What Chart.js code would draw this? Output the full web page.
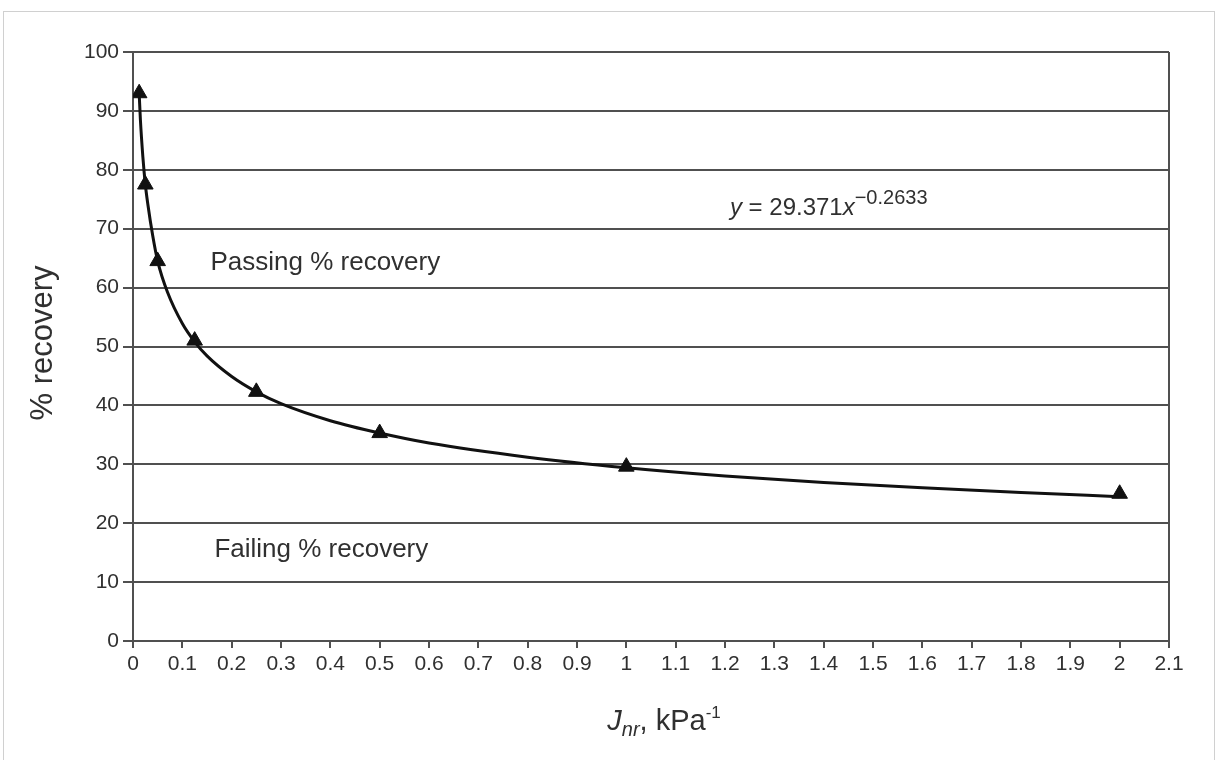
<!DOCTYPE html>
<html>
<head>
<meta charset="utf-8">
<script src="https://cdn.jsdelivr.net/npm/chart.js@4.4.1/dist/chart.umd.min.js"></script>
<style>
  html, body { margin: 0; padding: 0; background: #fff; }
  #wrap { width: 1218px; height: 760px; position: relative; }
</style>
</head>
<body>
<div id="wrap"><canvas id="chart"></canvas></div>
<script>
// measured points (J_nr vs % recovery)
const jnr = [0.0125, 0.025, 0.05, 0.125, 0.25, 0.5, 1, 2];
const recovery = [93, 77.5, 64.5, 51, 42.3, 35.3, 29.6, 25];

// fitted curve
const curveX = [0.0125, 0.015, 0.02, 0.025, 0.03, 0.04, 0.05, 0.07, 0.1, 0.125, 0.15, 0.2, 0.25, 0.3, 0.4, 0.5, 0.6, 0.8, 1.0, 1.2, 1.4, 1.6, 1.8, 2.0];
const curveY = [93, 88.5, 82.2, 77.5, 74.2, 68.8, 64.5, 59.2, 53.9, 50.8, 48.4, 44.9, 42.3, 40.3, 37.4, 35.3, 33.6, 31.2, 29.4, 28.0, 26.9, 26.0, 25.2, 24.5];

const yTicks = [0, 10, 20, 30, 40, 50, 60, 70, 80, 90, 100];
const xMax = 2.1;

const FONT = '"Liberation Sans", Arial, sans-serif';
const TEXT = '#303030';
const LINE = '#505050';

const points = jnr.map((x, i) => ({ x: x, y: recovery[i] }));
const curve = curveX.map((x, i) => ({ x: x, y: curveY[i] }));

// titles, annotations, frame
const extras = {
  id: 'extras',
  afterDraw(chart) {
    const ctx = chart.ctx;
    const xs = chart.scales.x, ys = chart.scales.y;
    const area = chart.chartArea;
    ctx.save();

    // right border of plot
    ctx.strokeStyle = LINE;
    ctx.lineWidth = 2;
    ctx.beginPath();
    ctx.moveTo(area.right, area.top);
    ctx.lineTo(area.right, area.bottom);
    ctx.stroke();

    // faint outer frame
    ctx.strokeStyle = '#d0d0d0';
    ctx.lineWidth = 1;
    ctx.strokeRect(3.5, 11.5, 1211, 760);

    ctx.fillStyle = TEXT;
    ctx.textBaseline = 'alphabetic';
    ctx.textAlign = 'left';

    // region labels
    ctx.font = '26px ' + FONT;
    ctx.fillText('Passing % recovery', xs.getPixelForValue(0.157), ys.getPixelForValue(63));
    ctx.fillText('Failing % recovery', xs.getPixelForValue(0.165), ys.getPixelForValue(14.2));

    // equation
    let ex = xs.getPixelForValue(1.21);
    const ey = ys.getPixelForValue(72.3);
    ctx.font = 'italic 24px ' + FONT;
    ctx.fillText('y', ex, ey);
    ex += ctx.measureText('y').width;
    ctx.font = '24px ' + FONT;
    ctx.fillText(' = 29.371', ex, ey);
    ex += ctx.measureText(' = 29.371').width;
    ctx.font = 'italic 24px ' + FONT;
    ctx.fillText('x', ex, ey);
    ex += ctx.measureText('x').width;
    ctx.font = '20px ' + FONT;
    ctx.fillText('\u22120.2633', ex, ey - 11);

    // y title
    ctx.save();
    ctx.translate(52, 343);
    ctx.rotate(-Math.PI / 2);
    ctx.textAlign = 'center';
    ctx.font = '31px ' + FONT;
    ctx.fillText('% recovery', 0, 0);
    ctx.restore();

    // x title: J_nr, kPa^-1
    const parts = [
      { t: 'J', f: 'italic 29px ' + FONT, dy: 0 },
      { t: 'nr', f: 'italic 20px ' + FONT, dy: 6 },
      { t: ', kPa', f: '29px ' + FONT, dy: 0 },
      { t: '-1', f: '17px ' + FONT, dy: -12 }
    ];
    let total = 0;
    parts.forEach(p => { ctx.font = p.f; total += ctx.measureText(p.t).width; });
    let tx = 664 - total / 2;
    const ty = 730;
    parts.forEach(p => {
      ctx.font = p.f;
      ctx.fillText(p.t, tx, ty + p.dy);
      tx += ctx.measureText(p.t).width;
    });

    ctx.restore();
  }
};

new Chart(document.getElementById('chart'), {
  type: 'scatter',
  data: {
    datasets: [
      {
        label: 'Power fit',
        data: curve,
        showLine: true,
        borderColor: '#111',
        borderWidth: 3,
        pointRadius: 0,
        cubicInterpolationMode: 'monotone',
        order: 2
      },
      {
        label: '% recovery',
        data: points,
        showLine: false,
        pointStyle: 'triangle',
        pointRadius: 9,
        backgroundColor: '#111',
        borderColor: '#111',
        borderWidth: 1,
        order: 1
      }
    ]
  },
  options: {
    responsive: true,
    maintainAspectRatio: false,
    animation: false,
    layout: { padding: { top: 52, right: 49, left: 0, bottom: 0 } },
    plugins: {
      legend: { display: false },
      tooltip: { enabled: false }
    },
    scales: {
      x: {
        type: 'linear',
        min: 0,
        max: xMax,
        afterFit: (s) => { s.height = 119; },
        grid: { drawOnChartArea: false, drawTicks: true, tickLength: 7, color: LINE, lineWidth: 2 },
        border: { display: true, color: LINE, width: 2 },
        ticks: {
          stepSize: 0.1,
          padding: 4,
          color: TEXT,
          font: { family: FONT, size: 21 },
          maxRotation: 0,
          autoSkip: false,
          callback: (v) => String(Math.round(v * 10) / 10)
        }
      },
      y: {
        type: 'linear',
        min: yTicks[0],
        max: yTicks[yTicks.length - 1],
        afterFit: (s) => { s.width = 133; },
        afterBuildTicks: (s) => { s.ticks = yTicks.map(v => ({ value: v })); },
        grid: { color: LINE, lineWidth: 2, tickLength: 10 },
        border: { display: true, color: LINE, width: 2 },
        ticks: {
          padding: 4,
          color: TEXT,
          font: { family: FONT, size: 21 }
        }
      }
    }
  },
  plugins: [extras]
});
</script>
</body>
</html>
